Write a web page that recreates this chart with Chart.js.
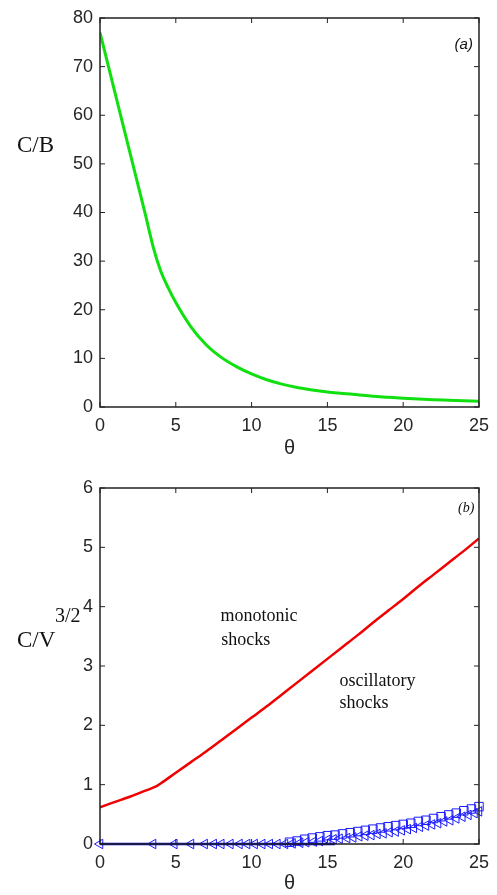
<!DOCTYPE html>
<html>
<head>
<meta charset="utf-8">
<script src="https://cdn.jsdelivr.net/npm/chart.js@4.4.0/dist/chart.umd.min.js"></script>
<style>
  html, body { margin: 0; padding: 0; background: #fff; }
  #wrap { position: relative; width: 497px; height: 895px; overflow: hidden; }
  canvas { position: absolute; left: 0; }
</style>
</head>
<body>
<div id="wrap">
  <canvas id="chartA" width="497" height="460" style="top:0"></canvas>
  <canvas id="chartB" width="497" height="435" style="top:460px"></canvas>
</div>
<script>
// Données (a) : C/B en fonction de theta
const thetaA = [0, 1, 2, 3, 3.5, 4, 4.5, 5, 6, 7, 8, 9, 10, 11, 12, 13, 14, 15, 16, 17, 18, 19, 20, 21, 22, 23, 24, 25];
const cbValues = [77, 64.5, 52, 39.5, 33, 28, 24.5, 21.5, 16.5, 12.8, 10.2, 8.3, 6.8, 5.6, 4.7, 4.0, 3.5, 3.1, 2.8, 2.5, 2.2, 2.0, 1.8, 1.65, 1.5, 1.4, 1.3, 1.2];

// Données (b) : courbe rouge (monotonic)
const thetaRed = [0, 1, 2, 3, 3.7, 4, 5, 6, 7, 8, 9, 10, 11, 12, 13, 14, 15, 16, 17, 18, 19, 20, 21, 22, 23, 24, 25];
const monoValues = [0.62, 0.71, 0.8, 0.9, 0.97, 1.02, 1.2, 1.38, 1.56, 1.75, 1.94, 2.13, 2.32, 2.52, 2.72, 2.92, 3.12, 3.32, 3.52, 3.73, 3.93, 4.13, 4.34, 4.54, 4.74, 4.94, 5.15];

// Marqueurs bleus (triangles)
const thetaTri = [0, 3.5, 4.9, 6.0, 6.9, 7.5, 8.0, 8.6, 9.2, 9.7, 10.2, 10.7, 11.2, 11.7, 12.2, 12.7, 13.2, 13.6, 14.1, 14.5, 15.0, 15.4, 15.8, 16.3, 16.7, 17.1, 17.5, 17.9, 18.3, 18.7, 19.1, 19.5, 19.9, 20.3, 20.7, 21.1, 21.5, 21.9, 22.3, 22.7, 23.1, 23.5, 23.9, 24.3, 24.7, 25];
const triValues = [0, 0, 0, 0, 0, 0, 0, 0, 0, 0, 0, 0, 0, 0, 0, 0.01, 0.02, 0.03, 0.04, 0.05, 0.07, 0.08, 0.09, 0.1, 0.11, 0.13, 0.14, 0.15, 0.17, 0.18, 0.2, 0.21, 0.23, 0.25, 0.27, 0.29, 0.31, 0.33, 0.35, 0.38, 0.4, 0.43, 0.46, 0.49, 0.52, 0.55];

// Marqueurs bleus (carrés)
const thetaSq = [12.5, 13, 13.5, 14, 14.5, 15, 15.5, 16, 16.5, 17, 17.5, 18, 18.5, 19, 19.5, 20, 20.5, 21, 21.5, 22, 22.5, 23, 23.5, 24, 24.5, 25];
const sqValues = [0.03, 0.05, 0.08, 0.1, 0.12, 0.14, 0.15, 0.17, 0.19, 0.21, 0.23, 0.25, 0.27, 0.29, 0.31, 0.33, 0.35, 0.38, 0.4, 0.43, 0.46, 0.49, 0.52, 0.56, 0.59, 0.63];

// Ligne bleue à zéro
const zeroTheta = [0, 15.5];
const zeroValues = [0, 0];

// Graduations
const xTicks = [0, 5, 10, 15, 20, 25];
const yTicksA = [0, 10, 20, 30, 40, 50, 60, 70, 80];
const yTicksB = [0, 1, 2, 3, 4, 5, 6];

const toPoints = (xs, ys) => xs.map((x, i) => ({ x: x, y: ys[i] }));

const tickFont = { family: "'Liberation Sans', Arial, sans-serif", size: 18 };
const tickColor = '#262626';

// Cadre + graduations vers l'intérieur (style MATLAB) + textes
const framePlugin = {
    id: 'frame',
    afterDatasetsDraw(chart, args, opts) {
        const ctx = chart.ctx;
        const a = chart.chartArea;
        const xs = chart.scales.x;
        const ys = chart.scales.y;
        ctx.save();
        ctx.strokeStyle = '#222';
        ctx.lineWidth = 1.5;
        ctx.strokeRect(a.left, a.top, a.right - a.left, a.bottom - a.top);
        ctx.lineWidth = 1;
        ctx.beginPath();
        xs.ticks.forEach(t => {
            const px = xs.getPixelForValue(t.value);
            ctx.moveTo(px, a.bottom); ctx.lineTo(px, a.bottom - 5);
            ctx.moveTo(px, a.top); ctx.lineTo(px, a.top + 5);
        });
        ys.ticks.forEach(t => {
            const py = ys.getPixelForValue(t.value);
            ctx.moveTo(a.left, py); ctx.lineTo(a.left + 5, py);
            ctx.moveTo(a.right, py); ctx.lineTo(a.right - 5, py);
        });
        ctx.stroke();

        // Textes
        ctx.fillStyle = '#111';
        ctx.textBaseline = 'middle';
        (opts.texts || []).forEach(t => {
            ctx.font = t.font;
            ctx.textAlign = t.align || 'left';
            const px = t.px !== undefined ? t.px : xs.getPixelForValue(t.x);
            const py = t.py !== undefined ? t.py : ys.getPixelForValue(t.y);
            ctx.fillText(t.text, px, py);
        });
        ctx.restore();
    }
};

function makeScales(yMax, yStep, yTicks, xHeight) {
    return {
        x: {
            type: 'linear',
            min: 0,
            max: 25,
            afterFit: s => { s.height = xHeight; },
            afterBuildTicks: s => { s.ticks = xTicks.map(v => ({ value: v })); },
            grid: { display: false, drawTicks: false },
            border: { display: false },
            ticks: { color: tickColor, font: tickFont, padding: 8, maxRotation: 0 },
            title: {
                display: true,
                text: 'θ',
                color: tickColor,
                font: { family: "'Liberation Sans', Arial, sans-serif", size: 20 },
                padding: { top: 0, bottom: 0 }
            }
        },
        y: {
            type: 'linear',
            min: 0,
            max: yMax,
            afterFit: s => { s.width = 100; },
            afterBuildTicks: s => { s.ticks = yTicks.map(v => ({ value: v })); },
            grid: { display: false, drawTicks: false },
            border: { display: false },
            ticks: { color: tickColor, font: tickFont, padding: 7, stepSize: yStep }
        }
    };
}

// Graphique (a)
new Chart(document.getElementById('chartA').getContext('2d'), {
    type: 'scatter',
    data: {
        datasets: [{
            label: 'C/B',
            data: toPoints(thetaA, cbValues),
            showLine: true,
            borderColor: '#10e010',
            borderWidth: 3,
            pointRadius: 0,
            cubicInterpolationMode: 'monotone'
        }]
    },
    options: {
        responsive: false,
        animation: false,
        layout: { padding: { top: 18, right: 15, left: 0, bottom: 0 } },
        plugins: {
            legend: { display: false },
            tooltip: { enabled: false },
            frame: {
                texts: [
                    { text: 'C/B', px: 17, py: 146, font: "23px 'Liberation Serif', 'Times New Roman', serif" },
                    { text: '(a)', x: 24.6, y: 74.5, align: 'right', font: "italic 15px 'Liberation Sans', Arial, sans-serif" }
                ]
            }
        },
        scales: makeScales(80, 10, yTicksA, 53)
    },
    plugins: [framePlugin]
});

// Graphique (b)
new Chart(document.getElementById('chartB').getContext('2d'), {
    type: 'scatter',
    data: {
        datasets: [
            {
                label: 'monotonic',
                data: toPoints(thetaRed, monoValues),
                showLine: true,
                borderColor: '#f00000',
                borderWidth: 2.5,
                pointRadius: 0,
                cubicInterpolationMode: 'monotone'
            },
            {
                label: 'zero',
                data: toPoints(zeroTheta, zeroValues),
                showLine: true,
                borderColor: '#0000c8',
                borderWidth: 2.5,
                pointRadius: 0,
                clip: false
            },
            {
                label: 'triangles',
                data: toPoints(thetaTri, triValues),
                showLine: false,
                pointStyle: 'triangle',
                rotation: -90,
                pointRadius: 5.5,
                borderColor: '#1a1aff',
                backgroundColor: 'rgba(0,0,0,0)',
                borderWidth: 1,
                clip: false
            },
            {
                label: 'squares',
                data: toPoints(thetaSq, sqValues),
                showLine: false,
                pointStyle: 'rect',
                pointRadius: 6,
                borderColor: '#1a1aff',
                backgroundColor: 'rgba(0,0,0,0)',
                borderWidth: 1,
                clip: false
            }
        ]
    },
    options: {
        responsive: false,
        animation: false,
        layout: { padding: { top: 28, right: 14, left: 0, bottom: 0 } },
        plugins: {
            legend: { display: false },
            tooltip: { enabled: false },
            frame: {
                texts: [
                    { text: 'C/V', px: 17, py: 181, font: "23px 'Liberation Serif', 'Times New Roman', serif" },
                    { text: '3/2', px: 55, py: 157, font: "20px 'Liberation Serif', 'Times New Roman', serif" },
                    { text: '(b)', x: 24.7, y: 5.65, align: 'right', font: "italic 14px 'Liberation Serif', 'Times New Roman', serif" },
                    { text: 'monotonic', x: 7.95, y: 3.83, font: "18px 'Liberation Serif', 'Times New Roman', serif" },
                    { text: 'shocks', x: 8.0, y: 3.44, font: "18px 'Liberation Serif', 'Times New Roman', serif" },
                    { text: 'oscillatory', x: 15.8, y: 2.75, font: "18px 'Liberation Serif', 'Times New Roman', serif" },
                    { text: 'shocks', x: 15.8, y: 2.38, font: "18px 'Liberation Serif', 'Times New Roman', serif" }
                ]
            }
        },
        scales: makeScales(6, 1, yTicksB, 51)
    },
    plugins: [framePlugin]
});
</script>
</body>
</html>
